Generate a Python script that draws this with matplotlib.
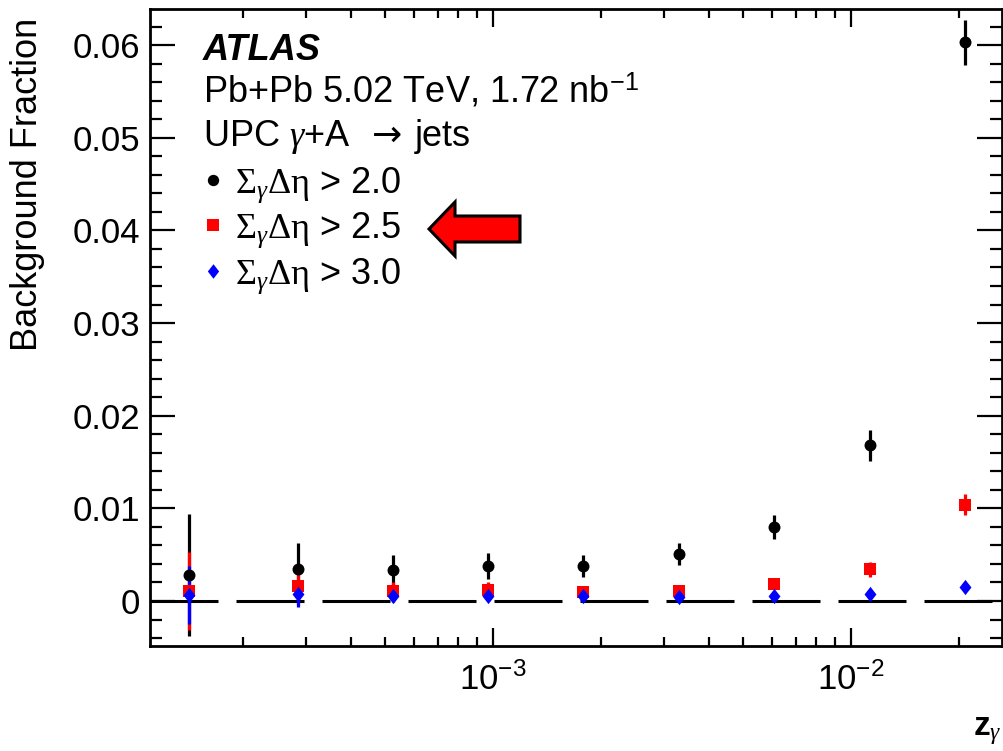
import numpy as np
import matplotlib
matplotlib.use("Agg")
import matplotlib.pyplot as plt
from matplotlib.patches import Polygon
from matplotlib.ticker import MultipleLocator, FuncFormatter, LogLocator, NullFormatter

# =========================
# Data
# =========================
z_gamma = [1.41e-4, 2.85e-4, 5.26e-4, 9.68e-4, 1.78e-3, 3.31e-3, 6.10e-3, 1.13e-2, 2.08e-2]

frac_20 = [0.0028, 0.0035, 0.0033, 0.0038, 0.0038, 0.0051, 0.0080, 0.0168, 0.0603]
err_20 = [0.0066, 0.0028, 0.0017, 0.0014, 0.0012, 0.0012, 0.0013, 0.0017, 0.0024]

frac_25 = [0.0011, 0.0016, 0.0011, 0.0012, 0.0010, 0.0011, 0.0018, 0.0034, 0.0104]
err_25 = [0.0042, 0.0020, 0.0010, 0.0009, 0.0005, 0.0005, 0.0005, 0.0008, 0.0011]

frac_30 = [0.00065, 0.0007, 0.0005, 0.00055, 0.00055, 0.0004, 0.00055, 0.0008, 0.0015]
err_30 = [0.0031, 0.0013, 0.0006, 0.0005, 0.0004, 0.0004, 0.0004, 0.0004, 0.0004]

labels = [r"$\Sigma_{\gamma}\Delta\mathrm{\eta}$ > 2.0",
          r"$\Sigma_{\gamma}\Delta\mathrm{\eta}$ > 2.5",
          r"$\Sigma_{\gamma}\Delta\mathrm{\eta}$ > 3.0"]

# =========================
# Style
# =========================
plt.rcParams["font.family"] = ["Liberation Sans", "DejaVu Sans"]
plt.rcParams["mathtext.fontset"] = "custom"
plt.rcParams["mathtext.rm"] = "Liberation Serif"
plt.rcParams["mathtext.it"] = "Liberation Serif:italic"
plt.rcParams["mathtext.bf"] = "Liberation Sans:bold"
plt.rcParams["mathtext.sf"] = "Liberation Sans"
plt.rcParams["axes.linewidth"] = 2.0

thin_diamond = [(0, 1), (0.78, 0), (0, -1), (-0.78, 0), (0, 1)]

fig = plt.figure(figsize=(10.04, 7.51), dpi=100)
ax = fig.add_axes([150 / 1004, 1 - 646 / 751, 852 / 1004, 637 / 751])

ax.set_xscale("log")
ax.set_xlim(1.10e-4, 2.64e-2)
ax.set_ylim(-0.00486, 0.0639)

# zero line, ROOT-like long dashes
ax.axhline(0, color="black", lw=2.2, dashes=(48.96 / 2.2, 12.96 / 2.2), zorder=1)

series = [
    (frac_20, err_20, "black", "o", 8.6),
    (frac_25, err_25, "red", "s", 8.6),
    (frac_30, err_30, "blue", thin_diamond, 11),
]
handles = []
for vals, errs, col, mk, ms in series:
    ax.errorbar(z_gamma, vals, yerr=errs, fmt="none", ecolor=col, elinewidth=2.3,
                capsize=0, zorder=2)
    h, = ax.plot(z_gamma, vals, ls="none", marker=mk, color=col, ms=ms,
                 markeredgewidth=0, zorder=3)
    handles.append(h)

# ticks
ax.yaxis.set_major_locator(MultipleLocator(0.01))
ax.yaxis.set_minor_locator(MultipleLocator(0.002))
ax.yaxis.set_major_formatter(FuncFormatter(lambda v, p: "0" if abs(v) < 1e-9 else f"{v:.2f}"))
ax.xaxis.set_major_locator(LogLocator(base=10))
ax.xaxis.set_minor_locator(LogLocator(base=10, subs=np.arange(2, 10)))
ax.xaxis.set_minor_formatter(NullFormatter())

ax.tick_params(axis="both", which="both", direction="in", top=True, right=True,
               labelsize=25, width=1.6)
ax.tick_params(axis="y", which="major", length=18, pad=7)
ax.tick_params(axis="y", which="minor", length=8.6)
ax.tick_params(axis="x", which="major", length=13, pad=12)
ax.tick_params(axis="x", which="minor", length=6.5)

# axis titles
ax.set_ylabel("Background Fraction", fontsize=26, loc="top")
ax.yaxis.set_label_coords(-0.123, 0.986)
ax.set_xlabel(r"$\mathbf{z}_{\gamma}$", fontsize=24, loc="right")
ax.xaxis.set_label_coords(1.0, -0.108)

# ATLAS label block
ax.text(0.062, 0.92, "ATLAS", transform=ax.transAxes, fontsize=26,
        fontweight="bold", fontstyle="italic", va="baseline")
ax.text(0.062, 0.854, r"Pb+Pb 5.02 TeV, 1.72 nb$^{\mathsf{-1}}$", transform=ax.transAxes,
        fontsize=26, va="baseline")
ax.text(0.062, 0.785, r"UPC $\gamma$+A", transform=ax.transAxes,
        fontsize=26, va="baseline")
ax.text(0.2606, 0.785, "\u2192", transform=ax.transAxes, fontsize=26,
        family="DejaVu Sans", va="baseline")
ax.text(0.311, 0.785, "jets", transform=ax.transAxes, fontsize=26, va="baseline")

ax.legend(handles, labels, loc="upper left", bbox_to_anchor=(0.061, 0.755),
          frameon=False, fontsize=26, handlelength=0.6, handletextpad=0.31,
          labelspacing=0.17, borderaxespad=0, borderpad=0, markerscale=0.95)

# red arrow pointing at the 2.5 entry (pixel geometry, y measured from top)
arrow_px = [(429, 229), (455, 202), (455, 216), (520, 216), (520, 242),
            (455, 242), (455, 256)]
arrow_in = [(x / 100, (751 - y) / 100) for x, y in arrow_px]
fig.patches.append(Polygon(arrow_in, closed=True, facecolor="red", edgecolor="black",
                           lw=2.2, joinstyle="miter", transform=fig.dpi_scale_trans))

fig.savefig("out.png", dpi=100)
